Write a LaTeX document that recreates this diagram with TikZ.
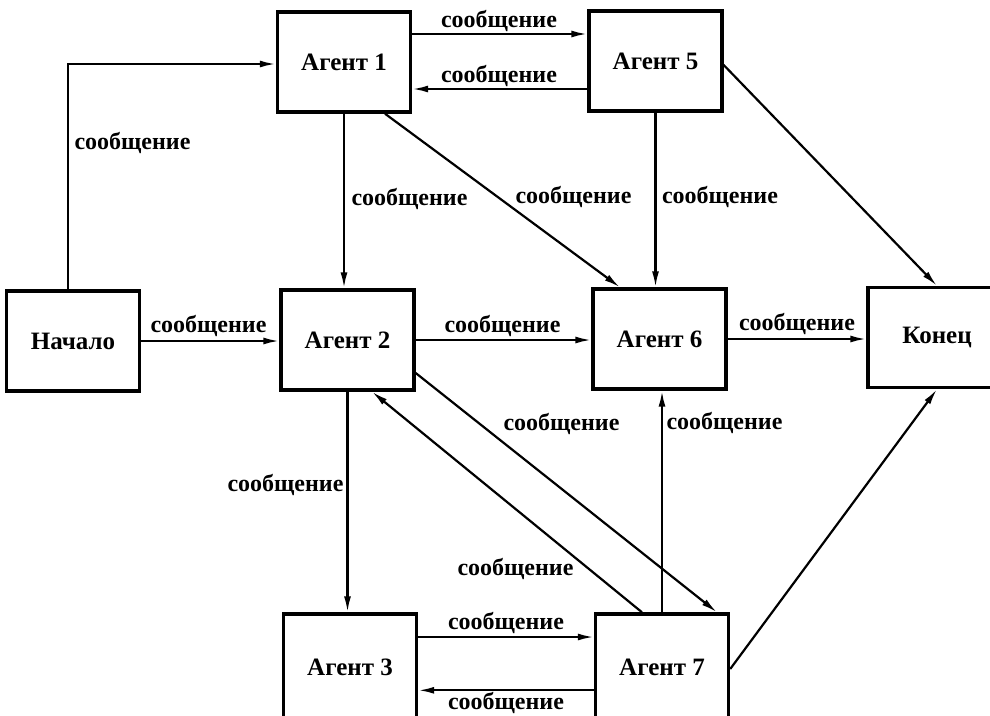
\documentclass[tikz,border=0pt]{standalone}
\usepackage{fontspec}
\setmainfont{Liberation Serif}
\usetikzlibrary{arrows.meta}
\begin{document}
\begin{tikzpicture}[x=1pt,y=-1pt,
  box/.style={draw, line width=3.4pt, minimum width=133pt, minimum height=100pt,
    inner sep=0pt, font=\bfseries\fontsize{25}{29}\selectfont},
  msg/.style={font=\bfseries\fontsize{24}{28}\selectfont, inner sep=0pt},
  conn/.style={line width=2.2pt, -{Latex[length=16pt,width=7pt]}}]
\useasboundingbox (0,0) rectangle (990,715);
\fill[white] (0,0) rectangle (990,715);
% boxes
\node[box] (a1) at (344,62) {Агент 1};
\node[box] (a5) at (655.5,61) {Агент 5};
\node[box] (beg) at (73,341) {Начало};
\node[box] (a2) at (347.5,340) {Агент 2};
\node[box] (a6) at (659.5,339) {Агент 6};
\node[box, minimum width=138pt] (fin) at (937,337.5) {Конец};
\node[box, minimum height=106pt] (a3) at (350,667) {Агент 3};
\node[box, minimum height=106pt] (a7) at (662,667) {Агент 7};
% connectors
\draw[conn] ([xshift=-5pt]beg.north) |- ([yshift=-2pt]a1.west);
\draw[conn] ([yshift=28pt]a1.east) -- ([yshift=28pt]a1.east -| a5.west);
\draw[conn] ([yshift=-28pt]a5.west) -- ([yshift=-28pt]a5.west -| a1.east);
\draw[conn] (a1.south) -- (a1.south |- a2.north);
\draw[conn] ([xshift=41pt]a1.south) -- ([xshift=-39.5pt]a6.north);
\draw[conn] (a5.south) -- (a5.south |- a6.north);
\draw[conn] ([yshift=-4pt]a5.east) -- (fin.north);
\draw[conn] (beg.east) -- (beg.east -| a2.west);
\draw[conn] (a2.east) -- (a2.east -| a6.west);
\draw[conn] (a6.east) -- (a6.east -| fin.west);
\draw[conn] (a2.south) -- (a2.south |- a3.north);
\draw[conn] ([yshift=-33pt]a2.east) -- ([xshift=55pt]a7.north);
\draw[conn] ([xshift=-20pt]a7.north) -- ([xshift=24.5pt]a2.south);
\draw[conn] (a7.north) -- (a7.north |- a6.south);
\draw[conn] ([yshift=-2pt]a7.east) -- (fin.south);
\draw[conn] ([yshift=30pt]a3.east) -- ([yshift=30pt]a3.east -| a7.west);
\draw[conn] ([yshift=-78pt]a7.north west) -- ([yshift=-78pt]a7.north west -| a3.east);
% labels
\node[msg] (m1) at (132.5,143) {сообщение};
\node[msg] (m2) at (499,21) {сообщение};
\node[msg] (m3) at (499,76) {сообщение};
\node[msg] (m4) at (409.5,199) {сообщение};
\node[msg] (m5) at (573.5,197) {сообщение};
\node[msg] (m6) at (720,197) {сообщение};
\node[msg] (m7) at (208.5,326) {сообщение};
\node[msg] (m8) at (502.5,326) {сообщение};
\node[msg] (m9) at (797,324) {сообщение};
\node[msg] (m10) at (285.5,485) {сообщение};
\node[msg] (m11) at (561.5,424) {сообщение};
\node[msg] (m12) at (724.5,423) {сообщение};
\node[msg] (m13) at (515.5,569) {сообщение};
\node[msg] (m14) at (506,623) {сообщение};
\node[msg] (m15) at (506,703) {сообщение};
\end{tikzpicture}
\end{document}
